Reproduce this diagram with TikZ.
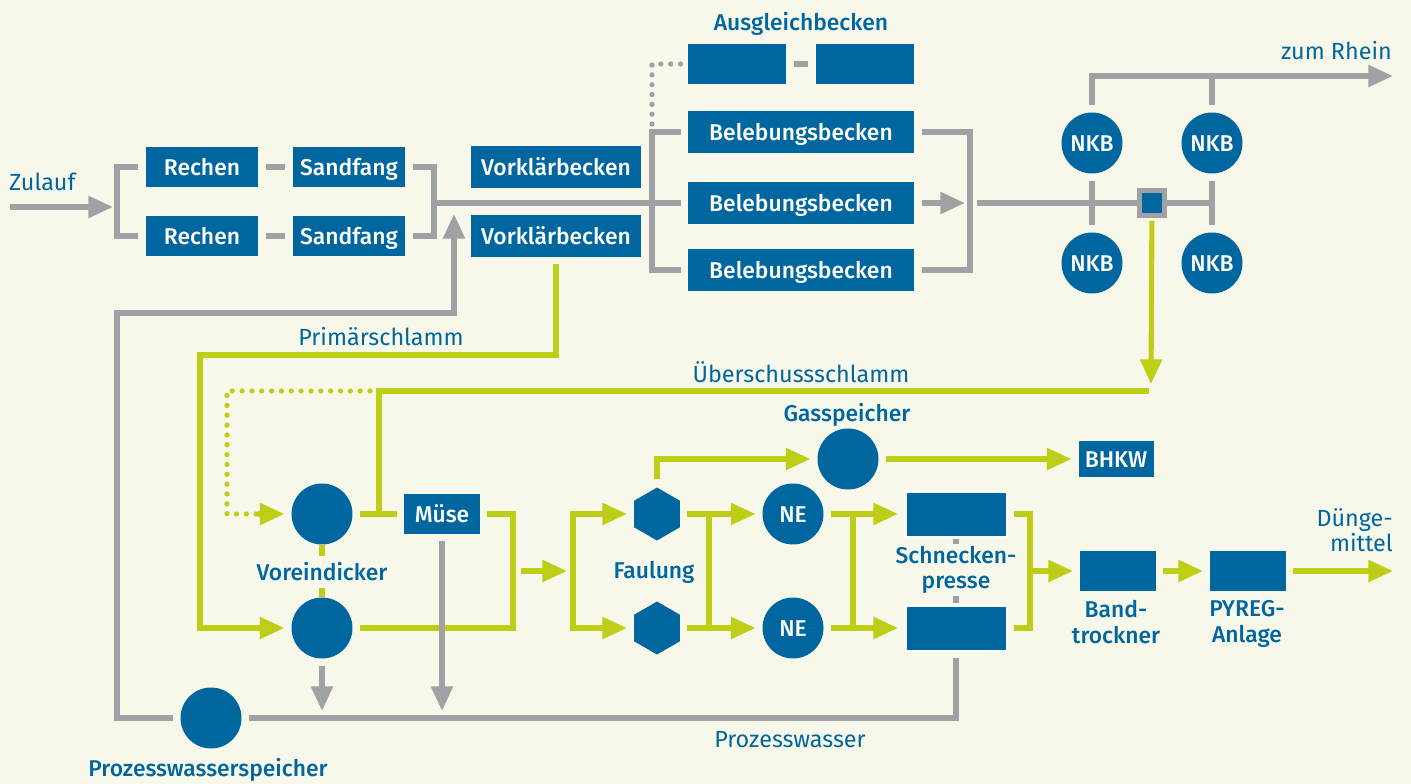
\documentclass[tikz,border=0pt]{standalone}
\usepackage{fontspec}
\setmainfont{Fira Sans}
\newfontfamily\medfont{Fira Sans Medium}
\usetikzlibrary{arrows.meta,shapes.geometric}
\definecolor{kbBlue}{RGB}{0,102,160}
\definecolor{kbGrey}{RGB}{160,161,164}
\definecolor{kbLime}{RGB}{190,206,22}
\definecolor{kbCream}{RGB}{248,248,234}
\tikzset{
	gline/.style={draw=kbGrey, line width=3pt},
	lline/.style={draw=kbLime, line width=2.9pt},
	garrow/.style={gline, -{Triangle[length=14pt,width=12pt]}},
	larrow/.style={lline, -{Triangle[length=14pt,width=12pt]}},
	gdots/.style={draw=kbGrey, line width=3pt, line cap=round, dash pattern=on 0pt off 5.6pt},
	ldots/.style={draw=kbLime, line width=3pt, line cap=round, dash pattern=on 0pt off 5.6pt},
	box/.style={fill=kbBlue, text=white, font=\medfont\fontsize{13}{15}\selectfont, text height=12pt, text depth=1.8pt, inner sep=0pt, outer sep=4pt, minimum width=#1, minimum height=0.82cm},
	box/.default=2cm,
	disc/.style={circle, fill=kbBlue, text=white, font=\medfont\fontsize{13}{15}\selectfont, text height=12pt, text depth=1.8pt, inner sep=0pt, outer sep=4pt, minimum size=1.22cm},
	hexa/.style={regular polygon, regular polygon sides=6, shape border rotate=30, fill=kbBlue, inner sep=0pt, outer sep=4pt, minimum size=1.06cm},
	presse/.style={box=2.04cm, minimum height=0.92cm, draw=white, line width=1.7pt},
	lbl/.style={text=kbBlue, font=\medfont\fontsize{13}{14.5}\selectfont, align=center},
	txt/.style={text=kbBlue, font=\fontsize{13.3}{14.5}\selectfont, align=center}
}
\begin{document}
\begin{tikzpicture}[x=0.02cm, y=-0.02cm]
	\fill[kbCream] (0,0) rectangle (1411,784);
	\useasboundingbox (0,0) rectangle (1411,784);

	\node[box=2.26cm] (rechenA) at (202,167) {Rechen};
	\node[box=2.26cm] (rechenB) at (202,236) {Rechen};
	\node[box=2.26cm] (sandA) at (349,167) {Sandfang};
	\node[box=2.26cm] (sandB) at (349,236) {Sandfang};
	\node[box=3.4cm, minimum height=0.84cm] (vkbA) at (556,167) {Vorklärbecken};
	\node[box=3.4cm, minimum height=0.84cm] (vkbB) at (556,236) {Vorklärbecken};
	\node[box=1.98cm] (ausA) at (737,64) {};
	\node[box=1.98cm] (ausB) at (865,64) {};
	\node[box=4.54cm, minimum height=0.84cm] (bbA) at (801,132) {Belebungsbecken};
	\node[box=4.54cm, minimum height=0.84cm] (bbB) at (801,203) {Belebungsbecken};
	\node[box=4.54cm, minimum height=0.84cm] (bbC) at (801,270) {Belebungsbecken};
	\node[disc] (nkbA) at (1092,143) {NKB};
	\node[disc] (nkbB) at (1212,143) {NKB};
	\node[disc] (nkbC) at (1092,263) {NKB};
	\node[disc] (nkbD) at (1212,263) {NKB};
	\node[draw=kbGrey, line width=2.8pt, fill=kbBlue, minimum size=0.5cm, inner sep=0pt, outer sep=0pt] (schieber) at (1152,203) {};
	\node[disc] (vdA) at (322,514) {};
	\node[disc] (vdB) at (322,628) {};
	\node[box=1.52cm, minimum height=0.8cm] (muese) at (442,514) {Müse};
	\node[hexa] (fauA) at (657,514) {};
	\node[hexa] (fauB) at (657,628) {};
	\node[disc] (gas) at (848,459) {};
	\node[box=1.5cm, minimum height=0.74cm] (bhkw) at (1116,459) {BHKW};
	\node[disc] (neA) at (793,514) {NE};
	\node[disc] (neB) at (793,628) {NE};
	\node[presse] (schA) at (956,514) {};
	\node[presse] (schB) at (956,628) {};
	\node[box=1.52cm, minimum height=0.8cm] (band) at (1118,571) {};
	\node[box=1.52cm, minimum height=0.8cm] (pyreg) at (1248,571) {};
	\node[disc] (pws) at (211,718) {};

	\node[lbl] (lblAus) at (801,24) {Ausgleichbecken};
	\node[txt, anchor=east] (lblRhein) at (1398,51) {zum Rhein};
	\node[txt, anchor=west] (lblZulauf) at (3,182) {Zulauf};
	\node[txt] (lblPrim) at (381,337) {Primärschlamm};
	\node[txt] (lblUeber) at (801,372) {Überschussschlamm};
	\node[lbl] (lblGas) at (847,415) {Gasspeicher};
	\node[lbl, inner sep=3.5pt] (lblVd) at (322,572) {Voreindicker};
	\node[lbl] (lblFau) at (654,572) {Faulung};
	\node[lbl, inner sep=1pt] (lblSch) at (956,570) {Schnecken-\\presse};
	\node[lbl] (lblBand) at (1116,622) {Band-\\trockner};
	\node[lbl] (lblPyreg) at (1247,624) {PYREG-\\Anlage};
	\node[txt, anchor=east, align=right] (lblDuenger) at (1399,530) {Dünge-\\mittel};
	\node[txt] (lblPw) at (790,740) {Prozesswasser};
	\node[lbl] (lblPws) at (208,770) {Prozesswasserspeicher};

	\coordinate (zulStart) at (10,207);
	\coordinate (zulTip) at (113,207);
	\coordinate (brL) at (117,202);
	\coordinate (brM) at (434,203);
	\coordinate (bbJ) at (652,203);
	\coordinate (dotEnd) at (652,126);
	\coordinate (bbR) at (970,203);
	\coordinate (bbRin) at (965,203);
	\coordinate (bbOut) at (977,203);
	\coordinate (nkbT) at (1212,203);
	\coordinate (rhein) at (1393,76);
	\coordinate (ueTip) at (1151,384);
	\coordinate (ueR) at (1149,391);
	\coordinate (ueL) at (379,391);
	\coordinate (ueJ) at (379,514);
	\coordinate (dotA) at (370,391);
	\coordinate (dotB) at (227,514);
	\coordinate (dotC) at (258,514);
	\coordinate (psL) at (200,355);
	\coordinate (mbJ) at (513,571);
	\coordinate (fzIn) at (521,571);
	\coordinate (fzTip) at (567,571);
	\coordinate (fzJ) at (573,571);
	\coordinate (fauJA) at (709,514);
	\coordinate (fauJB) at (709,628);
	\coordinate (neJA) at (853,514);
	\coordinate (neJB) at (853,628);
	\coordinate (schJ) at (1030,571);
	\coordinate (duenger) at (1393,571);
	\coordinate (vdDrop) at (322,711);
	\coordinate (mueDrop) at (442,711);
	\coordinate (pwL) at (117,313);
	\coordinate (pwTip) at (454,214);

	\draw[garrow] (zulStart) -- (zulTip);
	\draw[gline] (rechenA) -| (brL) |- (rechenB);
	\draw[gline] (rechenA) -- (sandA);
	\draw[gline] (rechenB) -- (sandB);
	\draw[gline] (sandA) -| (brM) |- (sandB);
	\draw[gline] (brM) -- (bbB);
	\draw[gline] (bbA) -| (bbJ) |- (bbC);
	\draw[gdots] (ausA) -| (dotEnd);
	\draw[gline] (ausA) -- (ausB);
	\draw[gline] (bbA) -| (bbR) |- (bbC);
	\draw[garrow] (bbB) -- (bbRin);
	\draw[gline] (bbOut) -- (schieber);
	\draw[gline] (schieber) -- (nkbT);
	\draw[gline] (nkbA) -- (nkbC);
	\draw[gline] (nkbB) -- (nkbD);
	\draw[garrow] (nkbA) |- (rhein);
	\draw[gline] (nkbB) -- (nkbB |- rhein);

	\draw[larrow, shorten <=3pt] (schieber) -- (ueTip);
	\draw[lline] (ueR) -- (ueL) -- (ueJ);
	\draw[ldots] (dotA) -| (dotB) -- (dotC);
	\draw[larrow] (dotC) -- (vdA);
	\draw[larrow] (vkbB) |- (psL) |- (vdB);
	\draw[lline, shorten <=-3.5pt] (vdA) -- (lblVd);
	\draw[lline, shorten >=-3.5pt] (lblVd) -- (vdB);
	\draw[lline] (vdA) -- (muese);
	\draw[lline] (muese) -| (mbJ) |- (vdB);
	\draw[larrow] (fzIn) -- (fzTip);
	\draw[larrow] (fzJ) |- (fauA);
	\draw[larrow] (fzJ) |- (fauB);
	\draw[larrow] (fauA) |- (gas);
	\draw[larrow] (gas) -- (bhkw);
	\draw[lline] (fauJA) -- (fauJB);
	\draw[larrow] (fauA) -- (neA);
	\draw[larrow] (fauB) -- (neB);
	\draw[lline] (neJA) -- (neJB);
	\draw[larrow] (neA) -- (schA);
	\draw[larrow] (neB) -- (schB);
	\draw[lline] (schA) -| (schJ) |- (schB);
	\draw[larrow] (schJ) -- (band);
	\draw[larrow] (band) -- (pyreg);
	\draw[larrow] (pyreg) -- (duenger);

	\draw[gline, shorten <=-3pt] (schA) -- (lblSch);
	\draw[gline, shorten >=-3pt] (lblSch) -- (schB);
	\draw[garrow] (vdB) -- (vdDrop);
	\draw[garrow] (muese) -- (mueDrop);
	\draw[gline] (schB) |- (pws);
	\draw[garrow] (pws) -| (pwL) -| (pwTip);
\end{tikzpicture}
\end{document}
